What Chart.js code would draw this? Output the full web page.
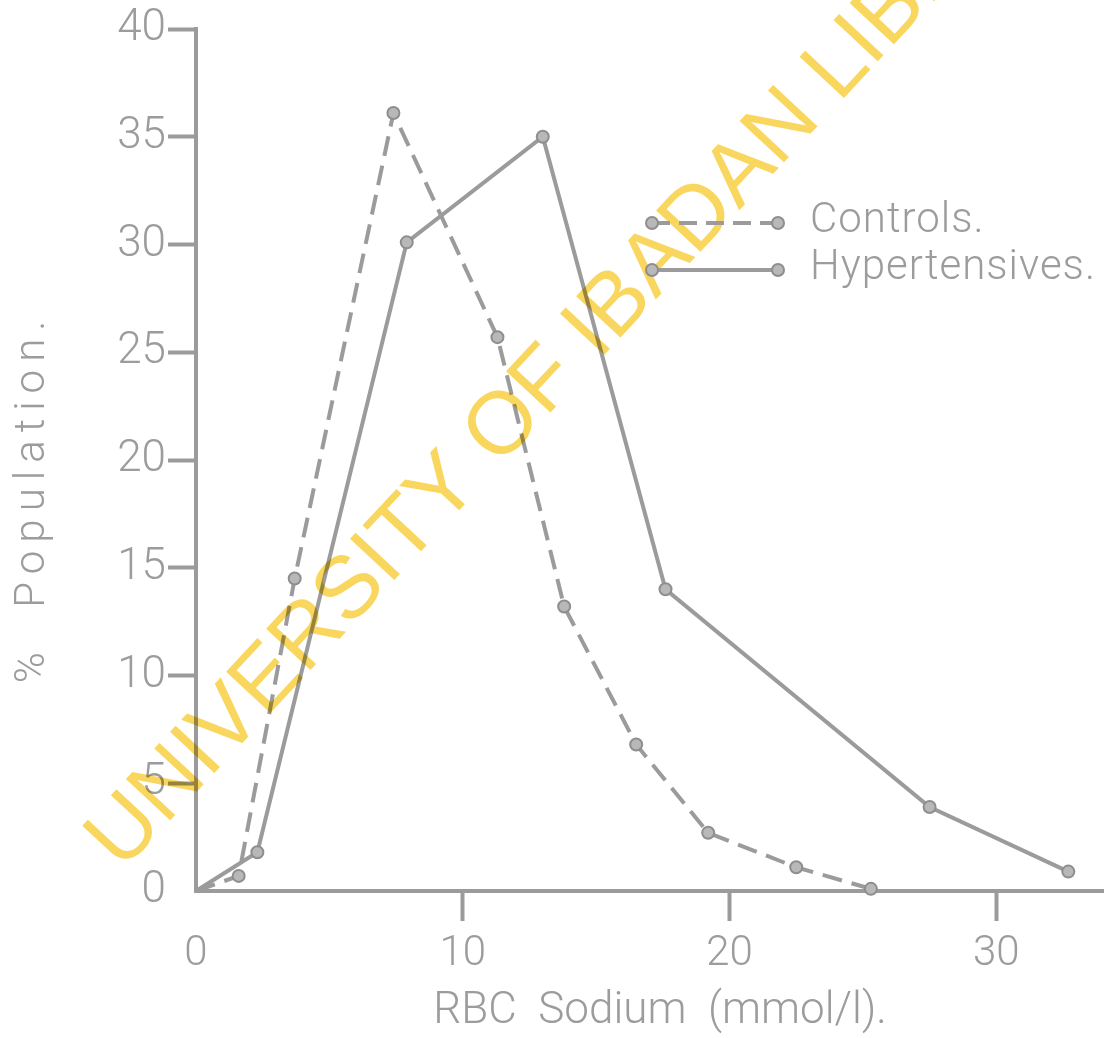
<!DOCTYPE html>
<html>
<head>
<meta charset="utf-8">
<script src="https://cdn.jsdelivr.net/npm/chart.js@4.4.1/dist/chart.umd.min.js"></script>
<style>
  html, body { margin: 0; padding: 0; background: #fff; }
  #wrap { width: 1111px; height: 1038px; }
</style>
</head>
<body>
<div id="wrap"><canvas id="first" width="1111" height="1038"></canvas></div>
<script>
// RBC sodium (mmol/l) vs % population
const controlsX = [0, 1.6, 3.7, 7.4, 11.3, 13.8, 16.5, 19.2, 22.5, 25.3];
const controlsY = [0, 0.7, 14.5, 36.1, 25.7, 13.2, 6.8, 2.7, 1.1, 0.1];
const hyperX = [0, 2.3, 7.9, 13.0, 17.6, 27.5, 32.7];
const hyperY = [0, 1.8, 30.1, 35.0, 14.0, 3.9, 0.9];

const xTicks = [0, 10, 20, 30];
const yTicks = [0, 5, 10, 15, 20, 25, 30, 35, 40];
const seriesNames = ["Controls.", "Hypertensives."];
const xTitle = "RBC  Sodium  (mmol/l).";
const yTitle = "%  Population.";
const watermark = "UNIVERSITY OF IBADAN LIBRARY";

const gray = "#9b9b9b";
const txt = "#9c9c9c";
const font = "Roboto, 'DejaVu Sans', sans-serif";

function toPts(xs, ys) {
  return xs.map((v, i) => ({ x: v, y: ys[i] }));
}

// no tick mark at the origin
function tickCol(ctx) {
  return ctx.tick && ctx.tick.value === 0 ? "rgba(0,0,0,0)" : gray;
}

const paper = {
  id: "paper",
  beforeDraw(chart) {
    const c = chart.ctx;
    c.save();
    c.fillStyle = "#fff";
    c.fillRect(0, 0, chart.width, chart.height);
    c.restore();
  }
};

const stamp = {
  id: "stamp",
  afterDatasetsDraw(chart) {
    const c = chart.ctx;
    c.save();
    c.globalCompositeOperation = "multiply";
    c.translate(122, 872);
    c.rotate(-47 * Math.PI / 180);
    c.font = "88px 'Liberation Sans', Arial, sans-serif";
    c.fillStyle = "#f9d75e";
    c.textAlign = "left";
    c.textBaseline = "alphabetic";
    c.fillText(watermark, 0, 0);
    c.restore();
  }
};

const extras = {
  id: "extras",
  afterDraw(chart) {
    const c = chart.ctx;
    c.save();
    c.fillStyle = txt;

    // axis titles
    c.font = "300 44px " + font;
    c.letterSpacing = "0px";
    c.textAlign = "center";
    c.textBaseline = "middle";
    c.fillText(xTitle, 660, 1012);

    c.translate(33, 498);
    c.rotate(-Math.PI / 2);
    c.font = "300 42px " + font;
    c.letterSpacing = "8px";
    c.fillText(yTitle, 0, 0);
    c.restore();

    // legend
    c.save();
    const rows = [223, 270];
    rows.forEach((y, i) => {
      c.strokeStyle = gray;
      c.lineWidth = 4;
      c.setLineDash(i === 0 ? [18, 9] : []);
      c.beginPath();
      c.moveTo(652, y);
      c.lineTo(778, y);
      c.stroke();
      c.setLineDash([]);
      [652, 778].forEach(px => {
        c.beginPath();
        c.arc(px, y, 6, 0, Math.PI * 2);
        c.fillStyle = "#b8b8b8";
        c.fill();
        c.lineWidth = 2;
        c.strokeStyle = "#8e8e8e";
        c.stroke();
      });
      c.fillStyle = txt;
      c.font = "300 42px " + font;
      c.letterSpacing = "1px";
      c.textAlign = "left";
      c.textBaseline = "middle";
      c.fillText(seriesNames[i], 810, y - 2);
    });
    c.restore();
  }
};

const pointStyle = {
  pointRadius: ctx => ctx.dataIndex === 0 ? 0 : 6,
  pointBackgroundColor: "#b8b8b8",
  pointBorderColor: "#8e8e8e",
  pointBorderWidth: 2
};

let chart = new Chart("first", {
  type: "line",
  data: {
    datasets: [{
      label: seriesNames[0],
      data: toPts(controlsX, controlsY),
      borderColor: gray,
      borderWidth: 4,
      borderDash: [20, 10],
      fill: false,
      tension: 0,
      ...pointStyle
    }, {
      label: seriesNames[1],
      data: toPts(hyperX, hyperY),
      borderColor: gray,
      borderWidth: 4,
      fill: false,
      tension: 0,
      ...pointStyle
    }]
  },
  options: {
    responsive: false,
    animation: false,
    clip: false,
    layout: { padding: { left: 0, top: 29, right: 5, bottom: 0 } },
    plugins: {
      legend: { display: false },
      tooltip: { enabled: false }
    },
    scales: {
      x: {
        type: "linear",
        min: 0,
        max: 34,
        afterFit(scale) { scale.height = 147; },
        afterBuildTicks(scale) { scale.ticks = xTicks.map(v => ({ value: v })); },
        ticks: {
          color: txt,
          padding: 8,
          font: { family: font, size: 42, weight: "300" },
          maxRotation: 0
        },
        grid: {
          drawOnChartArea: false,
          drawTicks: true,
          tickLength: 30,
          tickWidth: 4,
          tickColor: tickCol
        },
        border: { color: gray, width: 4 }
      },
      y: {
        min: 0,
        max: 40,
        afterFit(scale) { scale.width = 196; },
        afterBuildTicks(scale) { scale.ticks = yTicks.map(v => ({ value: v })); },
        ticks: {
          color: txt,
          padding: 2,
          font: { family: font, size: 44, weight: "300" }
        },
        grid: {
          drawOnChartArea: false,
          drawTicks: true,
          tickLength: 28,
          tickWidth: 4,
          tickColor: tickCol
        },
        border: { color: gray, width: 4 }
      }
    }
  },
  plugins: [paper, stamp, extras]
});
</script>
</body>
</html>
